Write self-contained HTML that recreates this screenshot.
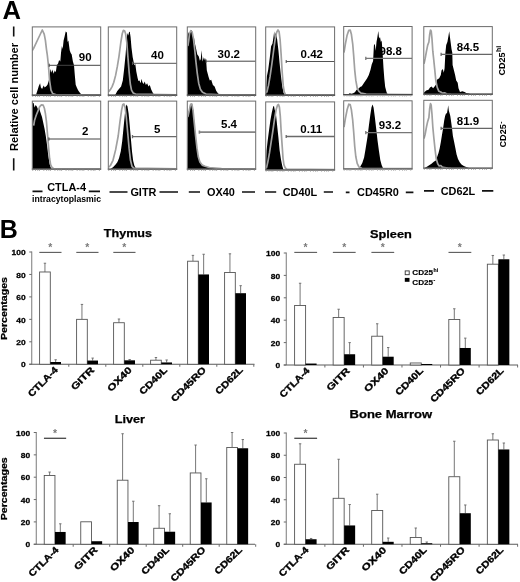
<!DOCTYPE html>
<html><head><meta charset="utf-8"><title>Figure</title>
<style>
html,body{margin:0;padding:0;background:#fff;}
body{width:520px;height:582px;overflow:hidden;font-family:"Liberation Sans",sans-serif;}
svg{display:block;filter:blur(0.35px);}
text{font-family:"Liberation Sans",sans-serif;font-weight:bold;fill:#000;}
.num{font-size:11.5px;}
.big{font-size:25px;}
.lbl{font-size:10.9px;}
.sub{font-size:8.8px;}
.side{font-size:9.8px;}
.rel{font-size:10.5px;}
.ttl{font-size:10.9px;stroke:#000;stroke-width:0.25px;}
.yt{font-size:7.4px;stroke:#000;stroke-width:0.25px;}
.cat{font-size:9.3px;stroke:#000;stroke-width:0.35px;}
.ylab{font-size:8.2px;stroke:#000;stroke-width:0.25px;}
.ast{font-size:10.4px;fill:#7a7a7a;font-weight:bold;}
.leg{font-size:7.6px;stroke:#000;stroke-width:0.15px;}
</style></head><body>
<svg width="520" height="582" viewBox="0 0 520 582">
<rect width="520" height="582" fill="#fff"/>
<text x="2.6" y="18.8" class="big" style="font-size:25.6px">A</text>
<text x="-0.2" y="238.1" class="big">B</text>
<text transform="translate(17.7 96.9) rotate(-90)" class="rel" text-anchor="middle" textLength="108" lengthAdjust="spacingAndGlyphs">Relative cell number</text>
<path d="M13.7 26.5V36.4M13.7 158.2V170.4" stroke="#111" stroke-width="1.6"/>
<g>
<clipPath id="c0"><rect x="32.3" y="26.9" width="68.4" height="68.4"/></clipPath>
<g clip-path="url(#c0)">
<polygon points="36.1,94.6 37.5,90.3 38.8,86.1 40.1,83.3 40.9,87.5 42.1,88.9 43.7,85.4 44.7,87.5 46.5,86.1 47.5,84.7 49.2,79.2 49.8,73.7 50.6,69.0 51.7,72.8 52.5,69.5 53.6,73.7 54.8,70.4 55.8,72.3 56.8,65.3 58.1,63.4 59.1,60.0 60.3,61.4 61.0,53.1 61.9,46.1 62.7,48.9 63.6,40.6 64.6,36.4 65.7,31.6 66.9,32.5 67.6,42.0 68.4,40.6 69.7,50.3 70.7,53.1 71.7,54.4 72.9,61.4 74.0,65.3 74.8,75.0 75.7,84.7 76.8,87.5 78.1,90.3 79.5,92.2 81.4,94.6" fill="#000"/>
<polyline points="32.3,50.5 33.5,48.6 38.0,39.0 42.3,30.0 44.2,34.2 45.4,40.4 46.5,49.6 47.3,55.0 48.4,65.0 49.6,80.6 51.0,90.1 52.7,93.6 56.2,94.8 100.6,94.9" fill="none" stroke="#a0a0a0" stroke-width="1.7" stroke-linejoin="round"/>
</g>
<path d="M49.2 63.7V66.9M49.2 65.3H100.6" stroke="#444" stroke-width="1.0" fill="none"/>
<rect x="32.3" y="26.9" width="68.4" height="68.4" fill="none" stroke="#6c6c6c" stroke-width="1"/>
<path d="M31.8 95.1H101.1" stroke="#484848" stroke-width="1.3"/>
<path d="M32.3 96.4H100.6" stroke="#aaa" stroke-width="1.1" stroke-dasharray="0.9 1.9 0.9 1.3 0.9 0.8 0.9 3.5"/>
<text x="85.2" y="61.3" class="num" text-anchor="middle">90</text>
</g>
<g>
<clipPath id="c1"><rect x="108.3" y="26.9" width="68.4" height="68.4"/></clipPath>
<g clip-path="url(#c1)">
<polygon points="115.2,94.9 117.3,91.0 119.4,88.4 121.1,86.6 122.8,80.6 124.2,68.5 125.6,54.6 126.5,42.5 127.3,33.0 128.2,35.6 129.1,32.1 129.8,31.8 130.6,37.3 131.5,47.7 132.7,57.2 134.3,65.3 135.3,64.1 136.3,71.6 137.6,78.0 138.4,80.9 139.5,80.6 140.7,83.2 141.5,78.8 142.4,82.3 143.6,84.0 144.7,81.4 145.9,84.9 147.1,83.2 148.5,86.6 149.8,84.9 151.1,89.2 152.8,92.7 154.5,94.9" fill="#000"/>
<polyline points="108.7,91.8 110.4,89.6 112.1,86.6 113.8,82.3 115.6,75.4 117.3,66.7 119.0,56.3 120.8,42.5 122.2,33.8 123.4,30.4 124.6,30.7 125.6,33.8 126.8,42.5 128.0,58.1 129.1,71.9 130.3,84.0 131.5,90.1 133.2,93.0 135.5,94.1 176.7,94.8" fill="none" stroke="#a0a0a0" stroke-width="1.7" stroke-linejoin="round"/>
</g>
<path d="M132.5 61.7V64.9M132.5 63.3H176.7" stroke="#555" stroke-width="1.0" fill="none"/>
<rect x="108.3" y="26.9" width="68.4" height="68.4" fill="none" stroke="#6c6c6c" stroke-width="1"/>
<path d="M107.8 95.1H177.2" stroke="#484848" stroke-width="1.3"/>
<path d="M108.3 96.4H176.7" stroke="#aaa" stroke-width="1.1" stroke-dasharray="0.9 1.9 0.9 1.3 0.9 0.8 0.9 3.5"/>
<text x="157.5" y="59.2" class="num" text-anchor="middle">40</text>
</g>
<g>
<clipPath id="c2"><rect x="187.3" y="26.9" width="68.4" height="68.4"/></clipPath>
<g clip-path="url(#c2)">
<polygon points="187.3,94.9 187.3,37.3 188.7,32.1 189.5,35.6 190.4,30.4 191.2,30.0 192.1,31.2 193.0,37.3 193.8,36.4 194.7,42.5 195.9,47.7 197.3,54.6 198.7,56.3 199.9,60.7 200.8,58.9 201.6,50.3 202.5,61.5 203.9,57.2 205.1,60.7 206.0,58.1 206.8,70.2 208.6,77.1 209.8,80.6 211.2,79.7 212.9,84.9 214.6,86.6 216.3,91.0 218.1,93.6 220.7,94.9" fill="#000"/>
<polyline points="187.8,46.0 188.7,40.8 189.5,33.8 190.7,30.7 192.1,31.8 193.5,39.0 194.7,49.4 195.9,61.5 197.3,73.7 198.7,83.2 200.4,89.2 202.5,92.3 206.0,94.1 221.5,94.8 255.6,94.9" fill="none" stroke="#a0a0a0" stroke-width="1.7" stroke-linejoin="round"/>
</g>
<path d="M206.0 59.6V62.8M206.0 61.2H255.6" stroke="#444" stroke-width="1.0" fill="none"/>
<rect x="187.3" y="26.9" width="68.4" height="68.4" fill="none" stroke="#6c6c6c" stroke-width="1"/>
<path d="M186.8 95.1H256.1" stroke="#484848" stroke-width="1.3"/>
<path d="M187.3 96.4H255.6" stroke="#aaa" stroke-width="1.1" stroke-dasharray="0.9 1.9 0.9 1.3 0.9 0.8 0.9 3.5"/>
<text x="228.8" y="57.5" class="num" text-anchor="middle">30.2</text>
</g>
<g>
<clipPath id="c3"><rect x="265.7" y="26.9" width="68.9" height="68.4"/></clipPath>
<g clip-path="url(#c3)">
<polygon points="266.1,95.3 266.4,85.4 266.9,76.2 268.2,69.7 269.9,56.7 271.1,46.3 272.5,43.5 273.5,37.1 274.2,31.2 274.7,38.3 275.4,33.2 276.1,33.8 277.0,38.3 278.4,50.1 279.6,63.3 281.0,76.2 282.3,86.8 283.6,92.7 284.9,95.3" fill="#000"/>
<polyline points="266.2,92.7 266.9,92.0 268.5,85.4 270.1,76.2 271.8,64.5 273.5,51.5 275.1,39.7 276.6,32.5 278.0,29.9 279.1,31.8 280.1,39.7 281.1,54.1 282.2,72.4 283.2,85.4 284.2,92.0 285.5,94.6 288.1,94.9 334.6,95.1" fill="none" stroke="#a0a0a0" stroke-width="1.7" stroke-linejoin="round"/>
</g>
<path d="M286.2 59.9V63.1M286.2 61.5H334.6" stroke="#555" stroke-width="1.1" fill="none"/>
<rect x="265.7" y="26.9" width="68.9" height="68.4" fill="none" stroke="#6c6c6c" stroke-width="1"/>
<path d="M265.2 95.1H335.1" stroke="#484848" stroke-width="1.3"/>
<path d="M265.7 96.4H334.6" stroke="#aaa" stroke-width="1.1" stroke-dasharray="0.9 1.9 0.9 1.3 0.9 0.8 0.9 3.5"/>
<text x="311.8" y="57.9" class="num" text-anchor="middle">0.42</text>
</g>
<g>
<clipPath id="c4"><rect x="343.7" y="26.5" width="68.4" height="68.4"/></clipPath>
<g clip-path="url(#c4)">
<polygon points="348.0,94.5 349.7,93.2 351.4,93.7 353.2,93.2 354.9,92.3 356.6,89.7 358.4,88.8 360.1,87.1 361.8,86.2 363.6,83.6 365.3,81.0 367.0,78.4 368.8,75.0 370.5,69.8 371.7,64.6 373.1,61.1 373.9,45.6 374.8,43.8 375.7,50.8 376.5,42.1 377.4,36.9 378.3,30.9 379.1,38.6 380.0,36.9 380.9,42.1 381.7,40.4 382.6,52.5 383.5,68.1 384.3,78.4 385.2,87.1 386.6,92.3 387.8,94.5" fill="#000"/>
<polyline points="344.0,52.5 345.4,43.8 347.1,35.2 348.8,30.3 350.2,30.0 351.4,34.3 352.7,43.8 353.7,55.9 354.7,69.8 355.8,80.2 357.2,88.0 358.9,91.4 361.0,93.2 366.2,94.0 412.0,94.5" fill="none" stroke="#a0a0a0" stroke-width="1.7" stroke-linejoin="round"/>
</g>
<path d="M365.8 56.8V60.0M365.8 58.4H412.0" stroke="#777" stroke-width="1.3" fill="none"/>
<rect x="343.7" y="26.5" width="68.4" height="68.4" fill="none" stroke="#6c6c6c" stroke-width="1"/>
<path d="M343.2 94.7H412.5" stroke="#484848" stroke-width="1.3"/>
<path d="M343.7 96.0H412.0" stroke="#aaa" stroke-width="1.1" stroke-dasharray="0.9 1.9 0.9 1.3 0.9 0.8 0.9 3.5"/>
<text x="390.7" y="55.2" class="num" text-anchor="middle">98.8</text>
</g>
<g>
<clipPath id="c5"><rect x="423.8" y="26.6" width="68.5" height="67.7"/></clipPath>
<g clip-path="url(#c5)">
<polygon points="424.0,94.6 424.0,92.5 426.2,90.5 428.5,89.7 430.0,87.4 431.5,86.6 433.1,88.2 434.6,86.6 436.2,84.3 436.9,79.7 439.2,78.2 440.8,75.1 441.5,70.5 442.8,68.9 443.8,72.8 444.6,68.2 445.4,52.8 446.2,45.1 447.4,42.0 448.5,35.8 449.2,31.2 450.0,37.4 450.8,43.5 451.5,48.9 452.3,52.8 452.6,65.1 453.8,69.7 455.1,75.1 456.2,80.5 457.7,82.8 458.5,88.2 460.0,92.0 462.3,91.2 464.6,92.0 466.2,93.1 469.2,93.5 470.8,94.6" fill="#000"/>
<polyline points="424.0,63.8 425.1,58.9 426.5,51.2 427.7,45.1 428.9,42.0 429.7,34.3 430.5,30.0 431.2,31.2 432.0,38.9 432.8,51.2 433.5,57.4 434.6,68.2 435.8,80.5 437.2,87.4 438.8,91.2 440.8,92.0 442.3,93.1 444.6,92.8 446.9,94.0 450.8,94.3 492.3,94.6" fill="none" stroke="#a0a0a0" stroke-width="1.7" stroke-linejoin="round"/>
</g>
<path d="M441.1 52.7V55.9M441.1 54.3H492.3" stroke="#666" stroke-width="1.2" fill="none"/>
<rect x="423.8" y="26.6" width="68.5" height="67.7" fill="none" stroke="#6c6c6c" stroke-width="1"/>
<path d="M423.3 94.1H492.8" stroke="#484848" stroke-width="1.3"/>
<path d="M423.8 95.4H492.3" stroke="#aaa" stroke-width="1.1" stroke-dasharray="0.9 1.9 0.9 1.3 0.9 0.8 0.9 3.5"/>
<text x="468.0" y="50.7" class="num" text-anchor="middle">84.5</text>
</g>
<g>
<clipPath id="c6"><rect x="32.3" y="101.1" width="68.4" height="68.2"/></clipPath>
<g clip-path="url(#c6)">
<polygon points="32.3,169.1 32.3,102.3 33.7,103.2 34.5,107.5 35.7,104.9 36.8,106.6 38.0,109.2 39.2,108.3 40.2,111.8 42.0,117.0 43.3,123.1 44.6,129.1 45.8,136.0 47.0,144.7 48.2,155.1 49.6,163.7 50.6,167.2 51.8,169.1" fill="#000"/>
<polyline points="33.7,125.7 34.5,120.5 36.2,115.3 38.0,110.9 39.7,106.6 41.4,104.9 43.2,105.2 44.4,108.3 45.4,113.5 46.5,122.2 47.5,134.3 48.5,146.4 49.6,158.5 50.6,164.6 51.8,167.2 53.6,168.6 100.6,168.9" fill="none" stroke="#a0a0a0" stroke-width="1.7" stroke-linejoin="round"/>
</g>
<path d="M48.9 137.4V140.6M48.9 139.0H100.6" stroke="#444" stroke-width="1.0" fill="none"/>
<rect x="32.3" y="101.1" width="68.4" height="68.2" fill="none" stroke="#6c6c6c" stroke-width="1"/>
<path d="M31.8 169.1H101.1" stroke="#6a6a6a" stroke-width="1.3"/>
<path d="M32.3 170.4H100.6" stroke="#aaa" stroke-width="1.1" stroke-dasharray="0.9 1.9 0.9 1.3 0.9 0.8 0.9 3.5"/>
<text x="85.2" y="135.3" class="num" text-anchor="middle">2</text>
</g>
<g>
<clipPath id="c7"><rect x="108.3" y="101.1" width="68.4" height="68.2"/></clipPath>
<g clip-path="url(#c7)">
<polygon points="110.4,169.1 113.0,167.2 115.6,164.6 117.3,162.3 119.0,158.2 120.8,151.3 122.2,141.2 123.4,129.1 124.6,117.0 125.4,108.3 126.5,104.5 127.5,106.6 128.6,113.5 129.6,123.9 130.8,137.8 132.0,151.6 133.2,161.1 134.4,165.8 136.3,169.1" fill="#000"/>
<polyline points="108.7,167.2 110.4,165.5 113.0,160.3 115.6,149.9 118.2,136.0 119.9,122.2 121.6,110.1 122.8,104.5 123.9,104.0 125.1,107.5 126.3,117.0 127.7,132.6 129.1,148.2 130.5,160.3 132.0,166.3 133.8,168.1 176.7,168.9" fill="none" stroke="#a0a0a0" stroke-width="1.7" stroke-linejoin="round"/>
</g>
<path d="M132.5 135.0V138.2M132.5 136.6H176.7" stroke="#6a6a6a" stroke-width="1.3" fill="none"/>
<rect x="108.3" y="101.1" width="68.4" height="68.2" fill="none" stroke="#6c6c6c" stroke-width="1"/>
<path d="M107.8 169.1H177.2" stroke="#6a6a6a" stroke-width="1.3"/>
<path d="M108.3 170.4H176.7" stroke="#aaa" stroke-width="1.1" stroke-dasharray="0.9 1.9 0.9 1.3 0.9 0.8 0.9 3.5"/>
<text x="157.1" y="133.2" class="num" text-anchor="middle">5</text>
</g>
<g>
<clipPath id="c8"><rect x="187.3" y="101.1" width="68.4" height="68.2"/></clipPath>
<g clip-path="url(#c8)">
<polygon points="187.3,169.1 187.8,115.3 189.5,108.3 190.7,103.5 192.1,104.0 193.2,110.1 194.2,120.5 195.2,132.6 196.4,144.7 197.7,153.3 199.0,159.4 200.8,162.9 202.5,165.1 205.1,166.3 207.7,167.2 212.9,168.1 221.5,169.1" fill="#000"/>
<polyline points="187.8,117.0 189.0,111.8 190.4,104.9 191.8,104.0 193.0,110.1 194.2,122.2 195.6,136.0 197.0,148.2 198.3,156.8 199.9,162.0 202.2,165.1 205.1,166.3 209.4,167.5 221.5,168.6 255.6,168.9" fill="none" stroke="#a0a0a0" stroke-width="1.7" stroke-linejoin="round"/>
</g>
<path d="M199.4 130.5V133.7M199.4 132.1H255.6" stroke="#858585" stroke-width="1.6" fill="none"/>
<rect x="187.3" y="101.1" width="68.4" height="68.2" fill="none" stroke="#6c6c6c" stroke-width="1"/>
<path d="M186.8 169.1H256.1" stroke="#6a6a6a" stroke-width="1.3"/>
<path d="M187.3 170.4H255.6" stroke="#aaa" stroke-width="1.1" stroke-dasharray="0.9 1.9 0.9 1.3 0.9 0.8 0.9 3.5"/>
<text x="229.0" y="128.4" class="num" text-anchor="middle">5.4</text>
</g>
<g>
<clipPath id="c9"><rect x="265.7" y="101.9" width="68.9" height="68.2"/></clipPath>
<g clip-path="url(#c9)">
<polygon points="265.9,169.9 266.2,159.5 266.6,150.3 267.6,141.2 269.0,130.6 270.4,120.2 271.8,112.4 273.2,106.5 274.0,105.9 274.7,109.8 275.8,112.4 277.0,124.2 278.4,137.2 279.6,150.3 281.0,159.5 282.3,165.9 283.6,169.9" fill="#000"/>
<polyline points="266.1,168.3 266.6,167.3 267.8,162.1 269.5,152.9 271.1,142.4 272.7,132.0 274.4,120.2 276.1,109.8 277.5,105.2 278.5,104.5 279.4,107.1 280.3,116.2 281.1,130.6 282.2,146.4 283.0,158.1 283.9,164.7 285.3,168.0 286.8,169.2 334.6,169.6" fill="none" stroke="#a0a0a0" stroke-width="1.7" stroke-linejoin="round"/>
</g>
<path d="M286.2 134.9V138.1M286.2 136.5H334.6" stroke="#6a6a6a" stroke-width="1.3" fill="none"/>
<rect x="265.7" y="101.9" width="68.9" height="68.2" fill="none" stroke="#6c6c6c" stroke-width="1"/>
<path d="M265.2 169.9H335.1" stroke="#6a6a6a" stroke-width="1.3"/>
<path d="M265.7 171.2H334.6" stroke="#aaa" stroke-width="1.1" stroke-dasharray="0.9 1.9 0.9 1.3 0.9 0.8 0.9 3.5"/>
<text x="311.2" y="133.2" class="num" text-anchor="middle">0.11</text>
</g>
<g>
<clipPath id="c10"><rect x="343.7" y="100.8" width="68.4" height="68.2"/></clipPath>
<g clip-path="url(#c10)">
<polygon points="358.9,168.8 360.6,166.0 362.3,163.1 364.1,157.4 365.6,148.7 367.4,137.5 368.9,125.4 370.3,115.0 371.5,107.2 372.6,104.6 373.6,107.7 374.8,116.7 376.2,128.8 377.6,140.9 379.0,151.3 380.3,160.0 381.7,165.2 383.3,168.8" fill="#000"/>
<polyline points="344.0,127.1 345.4,118.4 347.1,109.8 348.8,104.2 350.2,104.6 351.4,109.8 352.7,120.2 353.7,132.3 354.7,146.1 355.8,156.5 357.2,163.4 358.9,166.9 361.8,168.3 412.0,168.6" fill="none" stroke="#a0a0a0" stroke-width="1.7" stroke-linejoin="round"/>
</g>
<path d="M365.8 131.0V134.2M365.8 132.6H412.0" stroke="#777" stroke-width="1.3" fill="none"/>
<rect x="343.7" y="100.8" width="68.4" height="68.2" fill="none" stroke="#6c6c6c" stroke-width="1"/>
<path d="M343.2 168.8H412.5" stroke="#6a6a6a" stroke-width="1.3"/>
<path d="M343.7 170.1H412.0" stroke="#aaa" stroke-width="1.1" stroke-dasharray="0.9 1.9 0.9 1.3 0.9 0.8 0.9 3.5"/>
<text x="390.0" y="129.1" class="num" text-anchor="middle">93.2</text>
</g>
<g>
<clipPath id="c11"><rect x="423.8" y="100.3" width="68.5" height="68.0"/></clipPath>
<g clip-path="url(#c11)">
<polygon points="424.0,168.6 424.6,168.0 426.9,166.8 429.2,165.2 431.5,163.7 433.8,161.8 436.2,160.3 437.2,156.8 438.5,152.9 439.7,148.3 440.8,142.2 441.8,136.0 443.1,128.3 444.2,120.6 445.1,116.0 446.2,112.9 446.9,113.7 447.7,109.1 448.2,105.2 448.8,110.6 449.5,112.9 450.3,116.0 451.2,122.2 452.0,128.3 452.9,136.0 454.2,142.2 455.4,148.3 456.6,154.5 458.0,159.1 459.7,162.2 461.5,164.5 463.8,166.0 466.2,167.1 469.2,168.0 471.5,168.6" fill="#000"/>
<polyline points="424.0,138.6 425.1,134.5 426.5,126.8 427.7,121.4 428.9,117.5 429.7,108.3 430.5,103.7 431.2,105.2 432.0,114.5 432.8,126.8 433.8,137.5 435.1,149.8 436.3,159.1 437.7,163.7 439.2,166.0 440.8,165.5 442.3,167.1 444.6,167.5 447.7,168.0 450.8,168.3 492.3,168.6" fill="none" stroke="#a0a0a0" stroke-width="1.7" stroke-linejoin="round"/>
</g>
<path d="M441.1 126.7V129.9M441.1 128.3H492.3" stroke="#666" stroke-width="1.2" fill="none"/>
<rect x="423.8" y="100.3" width="68.5" height="68.0" fill="none" stroke="#6c6c6c" stroke-width="1"/>
<path d="M423.3 168.1H492.8" stroke="#6a6a6a" stroke-width="1.3"/>
<path d="M423.8 169.4H492.3" stroke="#aaa" stroke-width="1.1" stroke-dasharray="0.9 1.9 0.9 1.3 0.9 0.8 0.9 3.5"/>
<text x="468.0" y="124.7" class="num" text-anchor="middle">81.9</text>
</g>
<g transform="translate(505.0 75.6) rotate(-90)"><text class="side" textLength="23.1" lengthAdjust="spacingAndGlyphs">CD25</text><text x="23.6" y="-4.3" class="side" style="font-size:6.9px">hi</text></g>
<g transform="translate(505.9 147.5) rotate(-90)"><text class="side" textLength="23.3" lengthAdjust="spacingAndGlyphs">CD25</text><text x="23.8" y="-3.3" class="side" style="font-size:6.9px">-</text></g>
<text x="66.6" y="190.7" class="lbl" text-anchor="middle">CTLA-4</text>
<path d="M32.5 191.3H42.5M88.8 191.3H100.0" stroke="#111" stroke-width="1.7"/>
<text x="66.6" y="202" class="sub" text-anchor="middle" textLength="69" lengthAdjust="spacingAndGlyphs">intracytoplasmic</text>
<text x="143.4" y="195.8" class="lbl" text-anchor="middle">GITR</text>
<path d="M109.5 192.0H127.5M159.5 192.0H178.0" stroke="#111" stroke-width="1.7"/>
<text x="221.0" y="195.8" class="lbl" text-anchor="middle">OX40</text>
<path d="M188.8 192.0H200.0M242.0 192.0H255.0" stroke="#111" stroke-width="1.7"/>
<text x="300.0" y="195.8" class="lbl" text-anchor="middle">CD40L</text>
<path d="M265.0 192.0H276.2M323.8 192.0H333.0" stroke="#111" stroke-width="1.7"/>
<text x="378.0" y="196.0" class="lbl" text-anchor="middle">CD45R0</text>
<path d="M345.8 192.3H349.5M405.8 192.3H413.4" stroke="#111" stroke-width="1.7"/>
<text x="458.0" y="195.3" class="lbl" text-anchor="middle">CD62L</text>
<path d="M424.0 190.8H434.0M482.0 190.8H493.3" stroke="#111" stroke-width="1.7"/>
<g>
<text x="127.9" y="237.3" class="ttl" text-anchor="middle" textLength="48.2" lengthAdjust="spacingAndGlyphs">Thymus</text>
<path d="M31.75 251.50V364.25" stroke="#7a7a7a" stroke-width="1" fill="none"/>
<path d="M29.25 364.25H254.50" stroke="#5a5a5a" stroke-width="1" fill="none"/>
<text transform="translate(25.6 367.4) scale(1.14 1)" class="yt" text-anchor="end">0</text>
<text transform="translate(25.6 344.9) scale(1.14 1)" class="yt" text-anchor="end">20</text>
<text transform="translate(25.6 322.5) scale(1.14 1)" class="yt" text-anchor="end">40</text>
<text transform="translate(25.6 300.0) scale(1.14 1)" class="yt" text-anchor="end">60</text>
<text transform="translate(25.6 277.6) scale(1.14 1)" class="yt" text-anchor="end">80</text>
<text transform="translate(25.6 255.1) scale(1.14 1)" class="yt" text-anchor="end">100</text>
<path d="M31.75 364.25h-2.5M31.75 341.80h-2.5M31.75 319.35h-2.5M31.75 296.90h-2.5M31.75 274.45h-2.5M31.75 252.00h-2.5M68.80 364.25v2.5M105.80 364.25v2.5M142.80 364.25v2.5M179.80 364.25v2.5M216.80 364.25v2.5M253.80 364.25v2.5" stroke="#6a6a6a" stroke-width="1" fill="none"/>
<path d="M44.95 271.98V263.23M43.75 263.23h2.4M55.65 362.00V359.76M54.45 359.76h2.4" stroke="#686868" stroke-width="0.9" fill="none"/>
<rect x="39.60" y="271.98" width="10.70" height="92.27" fill="#fff" stroke="#555" stroke-width="0.9"/>
<rect x="50.30" y="362.00" width="10.70" height="2.25" fill="#000"/>
<text transform="translate(58.5 370.6) rotate(-45)" class="cat" text-anchor="end" textLength="38.0" lengthAdjust="spacingAndGlyphs">CTLA-4</text>
<path d="M81.95 319.35V304.42M80.75 304.42h2.4M92.65 360.55V358.08M91.45 358.08h2.4" stroke="#686868" stroke-width="0.9" fill="none"/>
<rect x="76.60" y="319.35" width="10.70" height="44.90" fill="#fff" stroke="#555" stroke-width="0.9"/>
<rect x="87.30" y="360.55" width="10.70" height="3.70" fill="#000"/>
<text transform="translate(94.8 370.6) rotate(-45)" class="cat" text-anchor="end" textLength="28.5" lengthAdjust="spacingAndGlyphs">GITR</text>
<path d="M118.95 322.72V319.01M117.75 319.01h2.4M129.65 360.32V359.54M128.45 359.54h2.4" stroke="#686868" stroke-width="0.9" fill="none"/>
<rect x="113.60" y="322.72" width="10.70" height="41.53" fill="#fff" stroke="#555" stroke-width="0.9"/>
<rect x="124.30" y="360.32" width="10.70" height="3.93" fill="#000"/>
<text transform="translate(132.5 370.6) rotate(-45)" class="cat" text-anchor="end" textLength="30.5" lengthAdjust="spacingAndGlyphs">OX40</text>
<path d="M155.95 360.21V357.51M154.75 357.51h2.4M166.65 362.45V359.98M165.45 359.98h2.4" stroke="#686868" stroke-width="0.9" fill="none"/>
<rect x="150.60" y="360.21" width="10.70" height="4.04" fill="#fff" stroke="#555" stroke-width="0.9"/>
<rect x="161.30" y="362.45" width="10.70" height="1.80" fill="#000"/>
<text transform="translate(167.8 370.6) rotate(-45)" class="cat" text-anchor="end" textLength="35.0" lengthAdjust="spacingAndGlyphs">CD40L</text>
<path d="M192.95 261.20V255.37M191.75 255.37h2.4M203.65 274.45V254.25M202.45 254.25h2.4" stroke="#686868" stroke-width="0.9" fill="none"/>
<rect x="187.60" y="261.20" width="10.70" height="103.05" fill="#fff" stroke="#555" stroke-width="0.9"/>
<rect x="198.30" y="274.45" width="10.70" height="89.80" fill="#000"/>
<text transform="translate(206.5 370.6) rotate(-45)" class="cat" text-anchor="end" textLength="45.0" lengthAdjust="spacingAndGlyphs">CD45RO</text>
<path d="M229.95 272.54V253.80M228.75 253.80h2.4M240.65 293.20V285.68M239.45 285.68h2.4" stroke="#686868" stroke-width="0.9" fill="none"/>
<rect x="224.60" y="272.54" width="10.70" height="91.71" fill="#fff" stroke="#555" stroke-width="0.9"/>
<rect x="235.30" y="293.20" width="10.70" height="71.05" fill="#000"/>
<text transform="translate(243.5 370.6) rotate(-45)" class="cat" text-anchor="end" textLength="34.5" lengthAdjust="spacingAndGlyphs">CD62L</text>
<path d="M39.30 252.40H61.50" stroke="#5a5a5a" stroke-width="1.1"/>
<text x="50.3" y="250.7" class="ast" text-anchor="middle">*</text>
<path d="M76.30 252.40H98.50" stroke="#5a5a5a" stroke-width="1.1"/>
<text x="87.3" y="250.7" class="ast" text-anchor="middle">*</text>
<path d="M113.30 252.40H135.50" stroke="#5a5a5a" stroke-width="1.1"/>
<text x="124.3" y="250.7" class="ast" text-anchor="middle">*</text>
<text transform="translate(7.4 308.5) rotate(-90)" class="ylab" text-anchor="middle" textLength="63" lengthAdjust="spacingAndGlyphs">Percentages</text>
</g>
<g>
<text x="390.9" y="238.2" class="ttl" text-anchor="middle" textLength="41.9" lengthAdjust="spacingAndGlyphs">Spleen</text>
<path d="M286.25 252.50V365.00" stroke="#7a7a7a" stroke-width="1" fill="none"/>
<path d="M283.75 365.00H518.00" stroke="#5a5a5a" stroke-width="1" fill="none"/>
<text transform="translate(280.1 368.1) scale(1.14 1)" class="yt" text-anchor="end">0</text>
<text transform="translate(280.1 345.7) scale(1.14 1)" class="yt" text-anchor="end">20</text>
<text transform="translate(280.1 323.3) scale(1.14 1)" class="yt" text-anchor="end">40</text>
<text transform="translate(280.1 300.9) scale(1.14 1)" class="yt" text-anchor="end">60</text>
<text transform="translate(280.1 278.5) scale(1.14 1)" class="yt" text-anchor="end">80</text>
<text transform="translate(280.1 256.1) scale(1.14 1)" class="yt" text-anchor="end">100</text>
<path d="M286.25 365.00h-2.5M286.25 342.60h-2.5M286.25 320.20h-2.5M286.25 297.80h-2.5M286.25 275.40h-2.5M286.25 253.00h-2.5M324.88 365.00v2.5M363.43 365.00v2.5M401.98 365.00v2.5M440.53 365.00v2.5M479.08 365.00v2.5M517.62 365.00v2.5" stroke="#6a6a6a" stroke-width="1" fill="none"/>
<path d="M300.10 305.53V283.24M298.90 283.24h2.4" stroke="#686868" stroke-width="0.9" fill="none"/>
<rect x="294.60" y="305.53" width="11.00" height="59.47" fill="#fff" stroke="#555" stroke-width="0.9"/>
<rect x="305.60" y="363.54" width="11.00" height="1.46" fill="#000"/>
<text transform="translate(310.2 371.3) rotate(-45)" class="cat" text-anchor="end" textLength="38.0" lengthAdjust="spacingAndGlyphs">CTLA-4</text>
<path d="M338.65 317.51V309.22M337.45 309.22h2.4M349.65 354.25V342.60M348.45 342.60h2.4" stroke="#686868" stroke-width="0.9" fill="none"/>
<rect x="333.15" y="317.51" width="11.00" height="47.49" fill="#fff" stroke="#555" stroke-width="0.9"/>
<rect x="344.15" y="354.25" width="11.00" height="10.75" fill="#000"/>
<text transform="translate(350.4 371.3) rotate(-45)" class="cat" text-anchor="end" textLength="28.5" lengthAdjust="spacingAndGlyphs">GITR</text>
<path d="M377.20 336.22V323.78M376.00 323.78h2.4M388.20 356.71V347.53M387.00 347.53h2.4" stroke="#686868" stroke-width="0.9" fill="none"/>
<rect x="371.70" y="336.22" width="11.00" height="28.78" fill="#fff" stroke="#555" stroke-width="0.9"/>
<rect x="382.70" y="356.71" width="11.00" height="8.29" fill="#000"/>
<text transform="translate(389.3 371.3) rotate(-45)" class="cat" text-anchor="end" textLength="30.5" lengthAdjust="spacingAndGlyphs">OX40</text>
<rect x="410.25" y="362.98" width="11.00" height="2.02" fill="#fff" stroke="#555" stroke-width="0.9"/>
<rect x="421.25" y="363.99" width="11.00" height="1.01" fill="#000"/>
<text transform="translate(423.8 371.3) rotate(-45)" class="cat" text-anchor="end" textLength="35.0" lengthAdjust="spacingAndGlyphs">CD40L</text>
<path d="M454.30 319.53V308.78M453.10 308.78h2.4M465.30 347.98V338.12M464.10 338.12h2.4" stroke="#686868" stroke-width="0.9" fill="none"/>
<rect x="448.80" y="319.53" width="11.00" height="45.47" fill="#fff" stroke="#555" stroke-width="0.9"/>
<rect x="459.80" y="347.98" width="11.00" height="17.02" fill="#000"/>
<text transform="translate(465.7 371.3) rotate(-45)" class="cat" text-anchor="end" textLength="45.0" lengthAdjust="spacingAndGlyphs">CD45RO</text>
<path d="M492.85 264.20V255.46M491.65 255.46h2.4M503.85 259.27V255.02M502.65 255.02h2.4" stroke="#686868" stroke-width="0.9" fill="none"/>
<rect x="487.35" y="264.20" width="11.00" height="100.80" fill="#fff" stroke="#555" stroke-width="0.9"/>
<rect x="498.35" y="259.27" width="11.00" height="105.73" fill="#000"/>
<text transform="translate(504.2 371.3) rotate(-45)" class="cat" text-anchor="end" textLength="34.5" lengthAdjust="spacingAndGlyphs">CD62L</text>
<path d="M294.30 252.40H317.10" stroke="#5a5a5a" stroke-width="1.1"/>
<text x="305.6" y="250.7" class="ast" text-anchor="middle">*</text>
<path d="M332.85 252.40H355.65" stroke="#5a5a5a" stroke-width="1.1"/>
<text x="344.2" y="250.7" class="ast" text-anchor="middle">*</text>
<path d="M371.40 252.40H394.20" stroke="#5a5a5a" stroke-width="1.1"/>
<text x="382.7" y="250.7" class="ast" text-anchor="middle">*</text>
<path d="M448.50 252.40H471.30" stroke="#5a5a5a" stroke-width="1.1"/>
<text x="459.8" y="250.7" class="ast" text-anchor="middle">*</text>
</g>
<g>
<text x="129.9" y="422.8" class="ttl" text-anchor="middle" textLength="30.3" lengthAdjust="spacingAndGlyphs">Liver</text>
<path d="M36.25 432.00V544.25" stroke="#7a7a7a" stroke-width="1" fill="none"/>
<path d="M33.75 544.25H255.00" stroke="#5a5a5a" stroke-width="1" fill="none"/>
<text transform="translate(30.1 547.4) scale(1.14 1)" class="yt" text-anchor="end">0</text>
<text transform="translate(30.1 525.0) scale(1.14 1)" class="yt" text-anchor="end">20</text>
<text transform="translate(30.1 502.7) scale(1.14 1)" class="yt" text-anchor="end">40</text>
<text transform="translate(30.1 480.3) scale(1.14 1)" class="yt" text-anchor="end">60</text>
<text transform="translate(30.1 458.0) scale(1.14 1)" class="yt" text-anchor="end">80</text>
<text transform="translate(30.1 435.6) scale(1.14 1)" class="yt" text-anchor="end">100</text>
<path d="M36.25 544.25h-2.5M36.25 521.90h-2.5M36.25 499.55h-2.5M36.25 477.20h-2.5M36.25 454.85h-2.5M36.25 432.50h-2.5M73.20 544.25v2.5M109.70 544.25v2.5M146.20 544.25v2.5M182.70 544.25v2.5M219.20 544.25v2.5M255.70 544.25v2.5" stroke="#6a6a6a" stroke-width="1" fill="none"/>
<path d="M49.60 475.52V472.06M48.40 472.06h2.4M60.30 531.96V523.80M59.10 523.80h2.4" stroke="#686868" stroke-width="0.9" fill="none"/>
<rect x="44.25" y="475.52" width="10.70" height="68.73" fill="#fff" stroke="#555" stroke-width="0.9"/>
<rect x="54.95" y="531.96" width="10.70" height="12.29" fill="#000"/>
<text transform="translate(59.2 550.5) rotate(-45)" class="cat" text-anchor="end" textLength="38.0" lengthAdjust="spacingAndGlyphs">CTLA-4</text>
<rect x="80.75" y="521.79" width="10.70" height="22.46" fill="#fff" stroke="#555" stroke-width="0.9"/>
<rect x="91.45" y="541.23" width="10.70" height="3.02" fill="#000"/>
<text transform="translate(98.0 550.5) rotate(-45)" class="cat" text-anchor="end" textLength="28.5" lengthAdjust="spacingAndGlyphs">GITR</text>
<path d="M122.60 480.22V433.73M121.40 433.73h2.4M133.30 522.01V501.23M132.10 501.23h2.4" stroke="#686868" stroke-width="0.9" fill="none"/>
<rect x="117.25" y="480.22" width="10.70" height="64.03" fill="#fff" stroke="#555" stroke-width="0.9"/>
<rect x="127.95" y="522.01" width="10.70" height="22.24" fill="#000"/>
<text transform="translate(135.2 550.5) rotate(-45)" class="cat" text-anchor="end" textLength="30.5" lengthAdjust="spacingAndGlyphs">OX40</text>
<path d="M159.10 528.27V505.70M157.90 505.70h2.4M169.80 531.73V513.74M168.60 513.74h2.4" stroke="#686868" stroke-width="0.9" fill="none"/>
<rect x="153.75" y="528.27" width="10.70" height="15.98" fill="#fff" stroke="#555" stroke-width="0.9"/>
<rect x="164.45" y="531.73" width="10.70" height="12.52" fill="#000"/>
<text transform="translate(169.8 550.5) rotate(-45)" class="cat" text-anchor="end" textLength="35.0" lengthAdjust="spacingAndGlyphs">CD40L</text>
<path d="M195.60 472.95V445.02M194.40 445.02h2.4M206.30 502.46V478.76M205.10 478.76h2.4" stroke="#686868" stroke-width="0.9" fill="none"/>
<rect x="190.25" y="472.95" width="10.70" height="71.30" fill="#fff" stroke="#555" stroke-width="0.9"/>
<rect x="200.95" y="502.46" width="10.70" height="41.79" fill="#000"/>
<text transform="translate(206.1 550.5) rotate(-45)" class="cat" text-anchor="end" textLength="45.0" lengthAdjust="spacingAndGlyphs">CD45RO</text>
<path d="M232.10 447.47V432.50M230.90 432.50h2.4M242.80 448.26V439.54M241.60 439.54h2.4" stroke="#686868" stroke-width="0.9" fill="none"/>
<rect x="226.75" y="447.47" width="10.70" height="96.78" fill="#fff" stroke="#555" stroke-width="0.9"/>
<rect x="237.45" y="448.26" width="10.70" height="95.99" fill="#000"/>
<text transform="translate(242.6 550.5) rotate(-45)" class="cat" text-anchor="end" textLength="34.5" lengthAdjust="spacingAndGlyphs">CD62L</text>
<path d="M43.95 438.25H66.15" stroke="#222" stroke-width="1.1"/>
<text x="55.0" y="436.6" class="ast" text-anchor="middle">*</text>
<text transform="translate(7.4 488.8) rotate(-90)" class="ylab" text-anchor="middle" textLength="63" lengthAdjust="spacingAndGlyphs">Percentages</text>
</g>
<g>
<text x="390.8" y="418.4" class="ttl" text-anchor="middle" textLength="82.5" lengthAdjust="spacingAndGlyphs">Bone Marrow</text>
<path d="M286.25 432.50V544.25" stroke="#7a7a7a" stroke-width="1" fill="none"/>
<path d="M283.75 544.25H518.00" stroke="#5a5a5a" stroke-width="1" fill="none"/>
<text transform="translate(280.1 547.4) scale(1.14 1)" class="yt" text-anchor="end">0</text>
<text transform="translate(280.1 525.1) scale(1.14 1)" class="yt" text-anchor="end">20</text>
<text transform="translate(280.1 502.9) scale(1.14 1)" class="yt" text-anchor="end">40</text>
<text transform="translate(280.1 480.6) scale(1.14 1)" class="yt" text-anchor="end">60</text>
<text transform="translate(280.1 458.4) scale(1.14 1)" class="yt" text-anchor="end">80</text>
<text transform="translate(280.1 436.1) scale(1.14 1)" class="yt" text-anchor="end">100</text>
<path d="M286.25 544.25h-2.5M286.25 522.00h-2.5M286.25 499.75h-2.5M286.25 477.50h-2.5M286.25 455.25h-2.5M286.25 433.00h-2.5M324.88 544.25v2.5M363.43 544.25v2.5M401.98 544.25v2.5M440.53 544.25v2.5M479.08 544.25v2.5M517.62 544.25v2.5" stroke="#6a6a6a" stroke-width="1" fill="none"/>
<path d="M300.10 464.26V443.79M298.90 443.79h2.4M311.10 539.24V538.47M309.90 538.47h2.4" stroke="#686868" stroke-width="0.9" fill="none"/>
<rect x="294.60" y="464.26" width="11.00" height="79.99" fill="#fff" stroke="#555" stroke-width="0.9"/>
<rect x="305.60" y="539.24" width="11.00" height="5.01" fill="#000"/>
<text transform="translate(309.3 550.5) rotate(-45)" class="cat" text-anchor="end" textLength="38.0" lengthAdjust="spacingAndGlyphs">CTLA-4</text>
<path d="M338.65 498.30V459.25M337.45 459.25h2.4M349.65 525.45V504.53M348.45 504.53h2.4" stroke="#686868" stroke-width="0.9" fill="none"/>
<rect x="333.15" y="498.30" width="11.00" height="45.95" fill="#fff" stroke="#555" stroke-width="0.9"/>
<rect x="344.15" y="525.45" width="11.00" height="18.80" fill="#000"/>
<text transform="translate(349.9 550.5) rotate(-45)" class="cat" text-anchor="end" textLength="28.5" lengthAdjust="spacingAndGlyphs">GITR</text>
<path d="M377.20 510.54V494.19M376.00 494.19h2.4M388.20 541.80V538.02M387.00 538.02h2.4" stroke="#686868" stroke-width="0.9" fill="none"/>
<rect x="371.70" y="510.54" width="11.00" height="33.71" fill="#fff" stroke="#555" stroke-width="0.9"/>
<rect x="382.70" y="541.80" width="11.00" height="2.45" fill="#000"/>
<text transform="translate(386.9 550.5) rotate(-45)" class="cat" text-anchor="end" textLength="30.5" lengthAdjust="spacingAndGlyphs">OX40</text>
<path d="M415.75 537.46V528.01M414.55 528.01h2.4M426.75 543.25V542.02M425.55 542.02h2.4" stroke="#686868" stroke-width="0.9" fill="none"/>
<rect x="410.25" y="537.46" width="11.00" height="6.79" fill="#fff" stroke="#555" stroke-width="0.9"/>
<rect x="421.25" y="543.25" width="11.00" height="1.00" fill="#000"/>
<text transform="translate(427.4 550.5) rotate(-45)" class="cat" text-anchor="end" textLength="35.0" lengthAdjust="spacingAndGlyphs">CD40L</text>
<path d="M454.30 476.72V441.23M453.10 441.23h2.4M465.30 513.21V504.98M464.10 504.98h2.4" stroke="#686868" stroke-width="0.9" fill="none"/>
<rect x="448.80" y="476.72" width="11.00" height="67.53" fill="#fff" stroke="#555" stroke-width="0.9"/>
<rect x="459.80" y="513.21" width="11.00" height="31.04" fill="#000"/>
<text transform="translate(465.5 550.5) rotate(-45)" class="cat" text-anchor="end" textLength="45.0" lengthAdjust="spacingAndGlyphs">CD45RO</text>
<path d="M492.85 440.01V433.78M491.65 433.78h2.4M503.85 449.46V443.01M502.65 443.01h2.4" stroke="#686868" stroke-width="0.9" fill="none"/>
<rect x="487.35" y="440.01" width="11.00" height="104.24" fill="#fff" stroke="#555" stroke-width="0.9"/>
<rect x="498.35" y="449.46" width="11.00" height="94.79" fill="#000"/>
<text transform="translate(503.9 550.5) rotate(-45)" class="cat" text-anchor="end" textLength="34.5" lengthAdjust="spacingAndGlyphs">CD62L</text>
<path d="M294.30 438.25H317.10" stroke="#222" stroke-width="1.1"/>
<text x="305.6" y="436.6" class="ast" text-anchor="middle">*</text>
</g>
<rect x="405.2" y="270.9" width="4.0" height="3.8" fill="#fff" stroke="#333" stroke-width="0.9"/>
<text x="412.3" y="275.1" class="leg" textLength="20.8" lengthAdjust="spacingAndGlyphs">CD25</text>
<text x="433.6" y="272.2" class="leg" style="font-size:5.2px">hi</text>
<rect x="404.8" y="277.9" width="4.7" height="3.9" fill="#000"/>
<text x="412.3" y="284.6" class="leg" textLength="20.8" lengthAdjust="spacingAndGlyphs">CD25</text>
<text x="433.6" y="282.2" class="leg" style="font-size:5.2px">-</text>
</svg>
</body></html>
